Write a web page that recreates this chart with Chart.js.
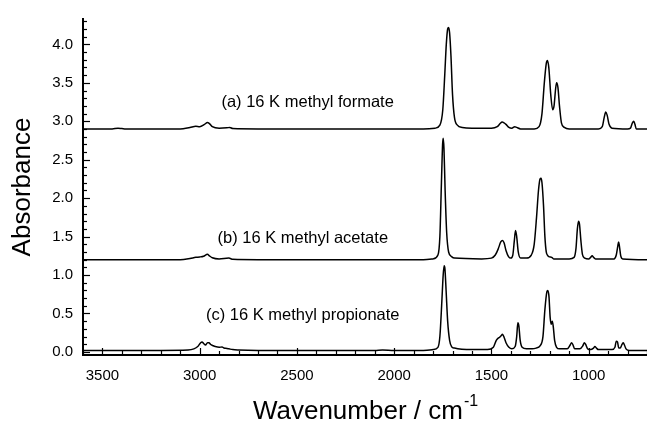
<!DOCTYPE html>
<html><head><meta charset="utf-8">
<script src="https://cdn.jsdelivr.net/npm/chart.js@4"></script>
<style>html,body{margin:0;padding:0;background:#fff;}#wrap{width:647px;height:431px;}</style>
</head><body><div id="wrap"><canvas id="c" width="647" height="431"></canvas></div>
<script>
const xTicks = [3500, 3000, 2500, 2000, 1500, 1000];
const yTicks = [0.0, 0.5, 1.0, 1.5, 2.0, 2.5, 3.0, 3.5, 4.0];
const seriesLabels = ['(a) 16 K methyl formate', '(b) 16 K methyl acetate', '(c) 16 K methyl propionate'];
const labelPos = [[2445, 3.25], [2470, 1.47], [2470, 0.48]];

const formateWn = [3600,3450,3420,3400,3380,3100,3050,3020,3000,2975,2960,2950,2935,2900,2860,2845,2830,2700,2100,1850,1790,1765,1750,1740,1732,1725,1720,1715,1708,1700,1690,1675,1650,1600,1500,1470,1455,1445,1435,1425,1410,1395,1380,1370,1350,1280,1255,1240,1228,1218,1212,1205,1195,1185,1178,1170,1165,1158,1150,1140,1125,1100,950,930,920,912,905,895,880,800,785,775,768,762,755,700];
const formateAbs = [2.90,2.90,2.91,2.905,2.90,2.90,2.92,2.935,2.93,2.96,2.985,2.97,2.93,2.91,2.915,2.92,2.905,2.90,2.90,2.90,2.91,2.95,3.15,3.60,4.00,4.20,4.22,4.15,3.85,3.35,3.05,2.95,2.92,2.91,2.91,2.93,2.97,2.99,2.98,2.96,2.92,2.91,2.93,2.92,2.90,2.90,2.93,3.10,3.50,3.75,3.79,3.70,3.35,3.15,3.20,3.42,3.50,3.44,3.20,2.98,2.92,2.90,2.90,2.93,3.05,3.12,3.08,2.96,2.91,2.90,2.91,2.98,3.00,2.96,2.90,2.90];

const acetateWn = [3600,3100,3050,3020,3000,2980,2960,2950,2935,2900,2850,2830,2700,1850,1800,1775,1765,1757,1751,1748,1744,1738,1730,1720,1705,1690,1550,1500,1480,1465,1452,1443,1435,1425,1412,1400,1390,1382,1376,1370,1362,1350,1320,1295,1280,1268,1258,1250,1245,1240,1232,1225,1218,1212,1205,1190,1180,1100,1075,1065,1058,1052,1047,1040,1032,1020,1000,990,982,975,965,870,858,850,846,842,835,825,700];
const acetateAbs = [1.20,1.20,1.215,1.23,1.235,1.245,1.27,1.25,1.225,1.21,1.22,1.205,1.20,1.20,1.21,1.26,1.50,2.20,2.70,2.78,2.65,2.10,1.55,1.30,1.24,1.22,1.21,1.22,1.26,1.34,1.43,1.45,1.42,1.32,1.24,1.22,1.26,1.45,1.58,1.50,1.30,1.22,1.22,1.26,1.40,1.75,2.10,2.25,2.26,2.20,1.90,1.50,1.30,1.26,1.24,1.23,1.21,1.21,1.23,1.35,1.60,1.70,1.66,1.45,1.27,1.22,1.21,1.23,1.25,1.23,1.21,1.21,1.26,1.38,1.43,1.38,1.25,1.21,1.20];

const propionateWn = [3600,3400,3200,3060,3030,3010,2995,2988,2980,2970,2960,2952,2945,2930,2920,2900,2885,2875,2860,2850,2830,2800,2700,2100,2060,2000,1850,1800,1775,1765,1755,1748,1743,1739,1733,1725,1715,1705,1690,1600,1520,1490,1475,1465,1458,1450,1443,1435,1425,1410,1395,1378,1370,1364,1359,1352,1342,1320,1290,1270,1250,1235,1225,1215,1210,1204,1198,1192,1187,1182,1175,1165,1150,1110,1095,1088,1082,1072,1045,1030,1022,1016,1005,990,975,968,960,950,880,865,858,852,845,838,828,822,816,808,790,700];
const propionateAbs = [0.02,0.02,0.02,0.025,0.04,0.07,0.12,0.13,0.11,0.09,0.12,0.12,0.10,0.08,0.07,0.06,0.065,0.05,0.045,0.04,0.03,0.025,0.02,0.02,0.025,0.02,0.02,0.03,0.06,0.20,0.65,1.00,1.12,1.08,0.80,0.40,0.15,0.07,0.05,0.03,0.03,0.06,0.15,0.18,0.19,0.21,0.23,0.19,0.12,0.06,0.04,0.07,0.20,0.38,0.34,0.15,0.06,0.04,0.04,0.05,0.08,0.20,0.55,0.78,0.80,0.72,0.45,0.36,0.40,0.33,0.15,0.06,0.04,0.04,0.09,0.12,0.10,0.04,0.04,0.08,0.12,0.10,0.04,0.03,0.05,0.07,0.05,0.03,0.03,0.06,0.14,0.13,0.05,0.05,0.10,0.12,0.09,0.04,0.02,0.02];

function pts(wn, ab){ return wn.map((w,i)=>({x:w, y:ab[i]})); }

const FONT = '"Liberation Sans", Arial, sans-serif';

const decor = {
  id: 'decor',
  afterDraw(chart){
    const ctx = chart.ctx, xs = chart.scales.x, ys = chart.scales.y, ca = chart.chartArea;
    ctx.save();
    ctx.strokeStyle = '#000'; ctx.lineWidth = 1.2;
    for (let k = 0; k <= 43; k++) {
      const v = k / 10; const py = Math.round(ys.getPixelForValue(v)) + 0.5;
      const len = (k % 5 === 0) ? 7 : 4;
      ctx.beginPath(); ctx.moveTo(ca.left, py); ctx.lineTo(ca.left + len, py); ctx.stroke();
    }
    for (let w = 700; w <= 3600; w += 100) {
      const px = Math.round(xs.getPixelForValue(w)) + 0.5;
      const len = (w % 500 === 0) ? 7 : 4;
      ctx.beginPath(); ctx.moveTo(px, ca.bottom); ctx.lineTo(px, ca.bottom - len); ctx.stroke();
    }
    ctx.fillStyle = '#000'; ctx.font = '16.5px ' + FONT; ctx.textAlign = 'center'; ctx.textBaseline = 'middle';
    seriesLabels.forEach((t, i) => {
      ctx.fillText(t, xs.getPixelForValue(labelPos[i][0]), ys.getPixelForValue(labelPos[i][1]));
    });
    const main = 'Wavenumber / cm', sup = '-1';
    ctx.font = '26px ' + FONT; const w1 = ctx.measureText(main).width;
    ctx.font = '16px ' + FONT; const w2 = ctx.measureText(sup).width;
    const cx = (ca.left + ca.right) / 2; const x0 = cx - (w1 + w2) / 2; const yb = 419;
    ctx.textAlign = 'left'; ctx.textBaseline = 'alphabetic';
    ctx.font = '26px ' + FONT; ctx.fillText(main, x0, yb);
    ctx.font = '16px ' + FONT; ctx.fillText(sup, x0 + w1 + 1, yb - 13);
    ctx.restore();
  }
};

const lineDs = (data) => ({ data, borderColor: '#000', borderWidth: 1.5, pointRadius: 0, fill: false, cubicInterpolationMode: 'monotone' });

new Chart(document.getElementById('c'), {
  type: 'line',
  data: { datasets: [
    lineDs(pts(formateWn, formateAbs)),
    lineDs(pts(acetateWn, acetateAbs)),
    lineDs(pts(propionateWn, propionateAbs))
  ]},
  options: {
    responsive: false, animation: false,
    layout: { padding: { top: 14, right: 0, left: 0, bottom: 0 } },
    plugins: { legend: { display: false }, tooltip: { enabled: false } },
    scales: {
      x: {
        type: 'linear', reverse: true, min: 700, max: 3600,
        afterBuildTicks: s => { s.ticks = xTicks.map(v => ({ value: v })); },
        afterFit: s => { s.height = 76; },
        grid: { display: false, drawTicks: false },
        border: { display: true, color: '#000', width: 2 },
        ticks: { color: '#000', font: { family: FONT, size: 15 }, padding: 12, maxRotation: 0, autoSkip: false, callback: v => String(v) }
      },
      y: {
        type: 'linear', min: -0.04, max: 4.33,
        afterBuildTicks: s => { s.ticks = yTicks.map(v => ({ value: v })); },
        afterFit: s => { s.width = 83; },
        grid: { display: false, drawTicks: false },
        border: { display: true, color: '#000', width: 2 },
        ticks: { color: '#000', font: { family: FONT, size: 15 }, padding: 10, autoSkip: false, callback: v => Number(v).toFixed(1) },
        title: { display: true, text: 'Absorbance', color: '#000', font: { family: FONT, size: 26 }, padding: { top: 7, bottom: 0 } }
      }
    }
  },
  plugins: [decor]
});
</script></body></html>
